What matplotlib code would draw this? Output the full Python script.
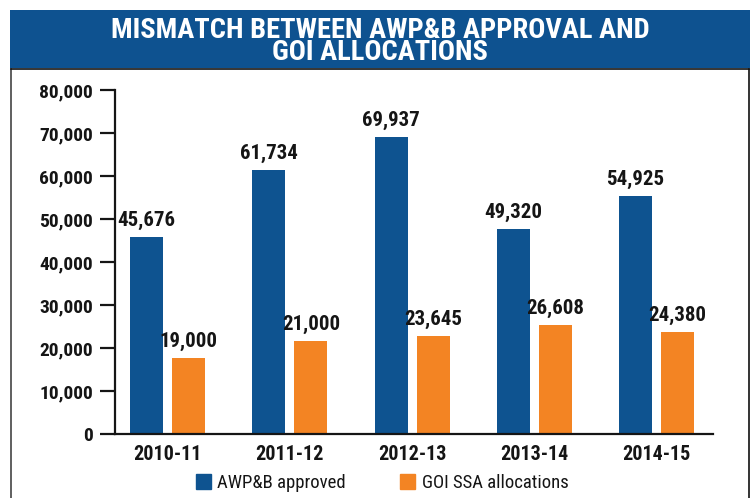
import numpy as np
import matplotlib.pyplot as plt
from matplotlib.patches import Patch, Rectangle
from matplotlib.lines import Line2D

# === Data ===
years = ['2010-11', '2011-12', '2012-13', '2013-14', '2014-15']
approved = [45676, 61734, 69937, 49320, 54925]
allocated = [19000, 21000, 23645, 26608, 24380]
# bar heights as drawn in the original graphic
approved_heights = [45800, 61400, 69100, 47700, 55400]
allocated_heights = [17700, 21600, 22800, 25400, 23700]
yticks = [0, 10000, 20000, 30000, 40000, 50000, 60000, 70000, 80000]

title = 'MISMATCH BETWEEN AWP&B APPROVAL AND\nGOI ALLOCATIONS'
series_names = ['AWP&B approved', 'GOI SSA allocations']

BLUE = '#0e5390'
ORANGE = '#f38423'
BAND = '#0e5290'
INK = '#151515'

COND = ['Roboto Condensed', 'Liberation Sans Narrow', 'DejaVu Sans']
plt.rcParams['font.family'] = COND

fig = plt.figure(figsize=(7.54, 4.98), dpi=100)

# === Frame and title band ===
W, H = 754, 498
fig.add_artist(Line2D([11 / W, 11 / W], [0, 1 - 69 / H], color='#444444', lw=1.2))
fig.add_artist(Line2D([749 / W, 749 / W], [0, 1 - 69 / H], color='#111111', lw=1.2))
fig.add_artist(Line2D([11 / W, 749 / W], [1 - 69 / H, 1 - 69 / H], color='#111111', lw=1.2))
fig.add_artist(Rectangle((10 / W, 1 - 68 / H), 740 / W, 58 / H, color=BAND, lw=0))
fig.text(380 / W, 1 - 41.5 / H, title, color='white', fontsize=20.5, fontweight='black',
         ha='center', va='center', linespacing=0.8, multialignment='center')

# === Bars ===
ax = fig.add_axes([115 / W, 1 - 434 / H, 598 / W, 344 / H])
x = np.arange(len(years))
off = 0.172
bw = 0.27
b1 = ax.bar(x - off, approved_heights, bw, color=BLUE)
b2 = ax.bar(x + off, allocated_heights, bw, color=ORANGE)

for bars, vals in [(b1, approved), (b2, allocated)]:
    for r, v in zip(bars, vals):
        ax.annotate(f'{v:,}', (r.get_x() + r.get_width() / 2, r.get_height()),
                    xytext=(0, 5.0), textcoords='offset points', ha='center', va='bottom',
                    fontsize=15, fontweight='black', color=INK)

ax.set_xlim(-0.43, 4.462)
ax.set_ylim(0, 80000)
ax.set_xticks(x)
ax.set_xticklabels(years)
ax.set_yticks(yticks)
ax.set_yticklabels([f'{t:,}' for t in yticks])
ax.tick_params(axis='x', length=0, pad=8, labelsize=14.5, labelcolor=INK)
ax.tick_params(axis='y', length=11, width=1.6, pad=5, labelsize=14, labelcolor=INK, color=INK)
for lab in ax.get_xticklabels() + ax.get_yticklabels():
    lab.set_fontweight('bold')
for s in ['top', 'right']:
    ax.spines[s].set_visible(False)
ax.spines['left'].set_linewidth(1.6)
ax.spines['bottom'].set_linewidth(1.6)
ax.spines['left'].set_color(INK)
ax.spines['bottom'].set_color(INK)

# === Legend ===
handles = [Patch(color=BLUE), Patch(color=ORANGE)]
fig.legend(handles, series_names, loc='center', bbox_to_anchor=(382 / W, 1 - 483 / H),
           ncol=2, frameon=False, fontsize=13.5, handlelength=0.8, handleheight=0.8,
           handletextpad=0.35, columnspacing=2.9, labelcolor=INK)

fig.savefig('out.png', dpi=100)
